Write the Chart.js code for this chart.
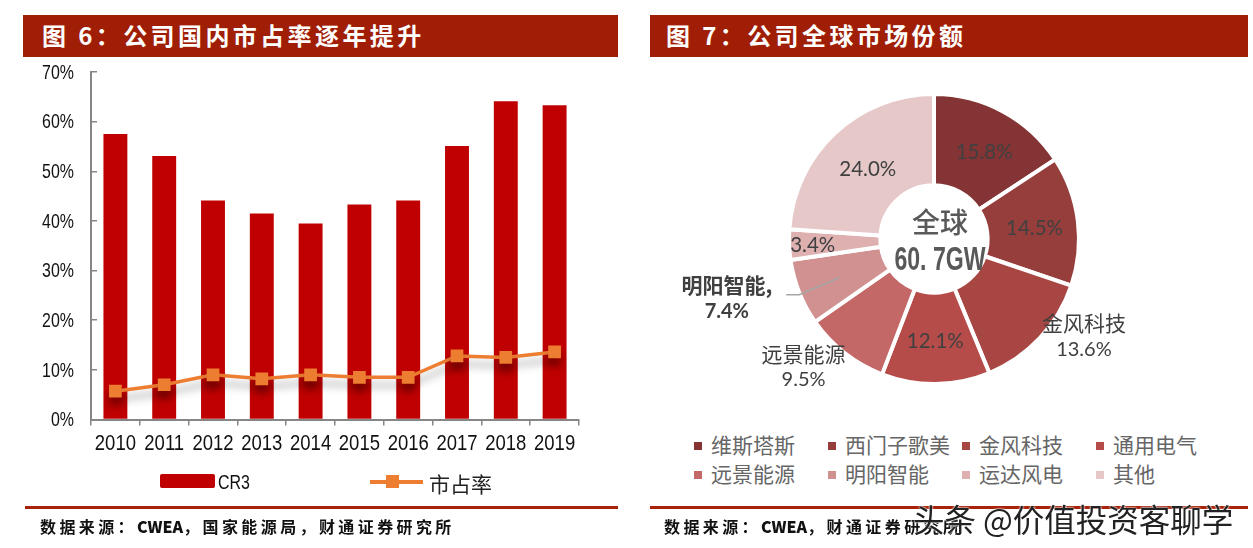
<!DOCTYPE html>
<html>
<head>
<meta charset="utf-8">
<script src="https://cdn.jsdelivr.net/npm/chart.js@4"></script>
<style>
html,body{margin:0;padding:0;background:#fff;}
body{width:1253px;height:548px;position:relative;overflow:hidden;font-family:"Noto Sans CJK SC",sans-serif;}
.abs{position:absolute;white-space:nowrap;}
canvas{position:absolute;}
.head{position:absolute;top:15px;height:42px;background:#A01E05;color:#fff;font-weight:700;font-size:24px;line-height:40px;letter-spacing:3.4px;}
.rule{position:absolute;top:506px;height:2.5px;background:#A92108;}
.src{position:absolute;top:514px;font-size:16px;line-height:24px;font-weight:700;color:#111;letter-spacing:3.4px;}
.src b{letter-spacing:0;}
</style>
</head>
<body>
<div class="head" style="left:23px;width:595px;"><span style="margin-left:19px">图 6：公司国内市占率逐年提升</span></div>
<div class="head" style="left:650px;width:598px;"><span style="margin-left:16px">图 7：公司全球市场份额</span></div>

<canvas id="barChart" style="left:0;top:60px;width:630px;height:440px;"></canvas>
<canvas id="pieChart" style="left:644px;top:60px;width:580px;height:358px;"></canvas>
<div id="barLegend"></div>
<div id="pieLegend"></div>

<div class="rule" style="left:25px;width:593px;"></div>
<div class="rule" style="left:650px;width:598px;"></div>
<div class="src" style="left:40px;">数据来源：<b>CWEA</b>，国家能源局，财通证券研究所</div>
<div class="src" style="left:664px;">数据来源：<b>CWEA</b>，财通证券研究所</div>
<div class="abs" style="left:913px;top:497px;font-size:31.5px;line-height:42px;color:#222;text-shadow:0 0 2px #fff,0 0 2px #fff;">头条 @价值投资客聊学</div>

<script>
// ------ data ------
const years = ["2010","2011","2012","2013","2014","2015","2016","2017","2018","2019"];
const cr3 = [57.5,53.1,44.1,41.5,39.5,43.3,44.1,55.1,64.1,63.3];
const share = [5.7,7,9,8.2,9,8.5,8.5,12.8,12.5,13.6];
const yTicks = [0,10,20,30,40,50,60,70];

const companies = ["维斯塔斯","西门子歌美","金风科技","通用电气","远景能源","明阳智能","运达风电","其他"];
const globalShare = [15.8,14.5,13.6,12.1,9.5,7.4,3.4,24.0];
const sliceColors = ["#843434","#963E3C","#A84644","#B64C4A","#C46867","#D29191","#DEB0B0","#E6C8C8"];

const BAR_RED = "#C00000";
const LINE_ORANGE = "#ED7D31";
const AXIS_GREY = "#868686";
const SANS = '"Liberation Sans",sans-serif';
const CJK = '"Noto Sans CJK SC",sans-serif';

// text squeezed sideways, the reference uses a condensed face we do not have
function narrowText(c,text,x,y,squeeze){
    c.save();
    c.translate(x,y);
    c.scale(squeeze,1);
    c.fillText(text,0,0);
    c.restore();
}

// ------ bar + line ------

// soft drop shadow under the line series only
const lineShadow = {
    id:"lineShadow",
    beforeDatasetDraw(chart,args){
        if(args.index !== 1) return;
        const c = chart.ctx;
        c.save();
        c.shadowColor = "rgba(0,0,0,0.35)";
        c.shadowBlur = 9;
        c.shadowOffsetY = 8;
    },
    afterDatasetDraw(chart,args){
        if(args.index !== 1) return;
        chart.ctx.restore();
    }
};

const narrowTicks = {
    id:"narrowTicks",
    afterDraw(chart){
        const c = chart.ctx;
        const {x,y} = chart.scales;
        c.save();
        c.fillStyle = "#111";
        c.textBaseline = "middle";
        c.font = "21.5px "+SANS;
        c.textAlign = "center";
        years.forEach((yr,i)=>{
            narrowText(c,yr,x.getPixelForTick(i),y.bottom+25,0.86);
        });
        c.font = "21px "+SANS;
        c.textAlign = "right";
        yTicks.forEach(v=>{
            narrowText(c,v+"%",x.left-17,y.getPixelForValue(v)+1,0.76);
        });
        c.restore();
    }
};

new Chart(document.getElementById("barChart"),{
    type:"bar",
    plugins:[lineShadow,narrowTicks],
    data:{
        labels:years,
        datasets:[
            {
                label:"CR3",
                data:cr3,
                backgroundColor:BAR_RED,
                barPercentage:0.49,
                categoryPercentage:1,
                order:2
            },
            {
                type:"line",
                label:"市占率",
                data:share,
                borderColor:LINE_ORANGE,
                backgroundColor:LINE_ORANGE,
                borderWidth:3.5,
                pointStyle:"rect",
                pointRadius:9,
                pointBorderWidth:0,
                tension:0,
                order:1
            }
        ]
    },
    options:{
        responsive:false,
        animation:false,
        devicePixelRatio:1,
        layout:{padding:{top:12,right:51,left:0,bottom:0}},
        plugins:{legend:{display:false},tooltip:{enabled:false}},
        scales:{
            x:{
                afterFit:s=>{s.height = 80.5;},
                grid:{drawOnChartArea:false,color:AXIS_GREY,tickLength:6,lineWidth:1.5},
                border:{color:AXIS_GREY,width:2},
                ticks:{display:false}
            },
            y:{
                min:0,
                max:70,
                afterFit:s=>{s.width = 91;},
                afterBuildTicks:s=>{s.ticks = yTicks.map(v=>({value:v}));},
                grid:{drawOnChartArea:false,color:AXIS_GREY,tickLength:-6,lineWidth:1.5},
                border:{color:AXIS_GREY,width:2},
                ticks:{display:false}
            }
        }
    }
});

// ------ donut ------

// x,y shift of each label from its slice centre, name shown on the outside ones
const labelPlace = [
    {dx:2,dy:3},
    {dx:0,dy:2},
    {dx:76,dy:28,name:true},
    {dx:0,dy:1},
    {dx:-68,dy:48,name:true},
    {dx:-113,dy:22,name:true,bold:true},
    {dx:-20,dy:2},
    {dx:3,dy:4}
];

const donutLabels = {
    id:"donutLabels",
    afterDatasetsDraw(chart){
        const c = chart.ctx;
        const arcs = chart.getDatasetMeta(0).data;
        const px = arcs[0].x, py = arcs[0].y;
        c.save();
        c.textAlign = "center";
        c.textBaseline = "middle";
        arcs.forEach((arc,i)=>{
            const mid = (arc.startAngle+arc.endAngle)/2;
            const r = (arc.innerRadius+arc.outerRadius)/2 + 2;
            const p = labelPlace[i];
            const x = px + Math.cos(mid)*r + p.dx;
            const y = py + Math.sin(mid)*r + p.dy;
            const txt = globalShare[i].toFixed(1)+"%";
            c.fillStyle = "#404040";
            if(p.name){
                c.font = (p.bold?"700 ":"")+"21px "+CJK;
                c.fillText(companies[i]+(p.bold?",":""),x,y-13);
                c.font = (p.bold?"700 ":"")+"20px Lato";
                c.fillText(txt,x,y+13);
            }else{
                c.font = "20.5px Lato";
                c.fillText(txt,x,y);
            }
        });
        c.restore();
    }
};

const centerText = {
    id:"centerText",
    afterDatasetsDraw(chart){
        const c = chart.ctx;
        const a = chart.getDatasetMeta(0).data[0];
        c.save();
        c.textAlign = "center";
        c.textBaseline = "middle";
        c.fillStyle = "#595959";
        c.font = "500 28px "+CJK;
        c.fillText("全球",a.x+6,a.y-17);
        c.font = "700 33px "+SANS;
        narrowText(c,"60. 7GW",a.x+6,a.y+22,0.7);
        c.restore();
    }
};

// leader line from the 明阳智能 label into its slice
const leader = {
    id:"leader",
    afterDatasetsDraw(chart){
        const c = chart.ctx;
        const a = chart.getDatasetMeta(0).data[5];
        const mid = (a.startAngle+a.endAngle)/2;
        const r = a.outerRadius*0.8;
        const x = a.x+Math.cos(mid)*r, y = a.y+Math.sin(mid)*r;
        c.save();
        c.strokeStyle = "#A6A6A6";
        c.lineWidth = 1.5;
        c.beginPath();
        c.moveTo(x-40,y+13);
        c.lineTo(x-27,y+13);
        c.lineTo(x+13,y-4);
        c.stroke();
        c.restore();
    }
};

new Chart(document.getElementById("pieChart"),{
    type:"doughnut",
    plugins:[leader,donutLabels,centerText],
    data:{
        labels:companies,
        datasets:[{
            data:globalShare,
            backgroundColor:sliceColors,
            borderColor:"#fff",
            borderWidth:4,
            borderAlign:"center"
        }]
    },
    options:{
        responsive:false,
        animation:false,
        devicePixelRatio:1,
        cutout:"37%",
        layout:{padding:{top:32,bottom:32}},
        plugins:{legend:{display:false},tooltip:{enabled:false}}
    }
});

// ------ html legends ------

const barLegend = document.getElementById("barLegend");
barLegend.innerHTML =
    '<div class="abs" style="left:160px;top:474px;width:55px;height:14px;background:'+BAR_RED+';border-radius:2px"></div>'+
    '<div class="abs" style="left:218px;top:469px;font:21px/26px \'Liberation Sans\',sans-serif;color:#111;transform:scaleX(0.76);transform-origin:left">CR3</div>'+
    '<div class="abs" style="left:370px;top:480px;width:53px;height:3.5px;background:'+LINE_ORANGE+'"></div>'+
    '<div class="abs" style="left:386px;top:475px;width:13px;height:13px;background:'+LINE_ORANGE+'"></div>'+
    '<div class="abs" style="left:429px;top:468px;font-size:21px;line-height:30px;color:#222">市占率</div>';

const pieLegend = document.getElementById("pieLegend");
const colX = [694,828,962,1096];
const rowY = [446,475];
companies.forEach((name,i)=>{
    const x = colX[i%4], y = rowY[Math.floor(i/4)];
    const sq = document.createElement("div");
    sq.className = "abs";
    sq.style.cssText = "left:"+x+"px;top:"+(y-4)+"px;width:8px;height:8px;background:"+sliceColors[i];
    pieLegend.appendChild(sq);
    const t = document.createElement("div");
    t.className = "abs";
    t.textContent = name;
    t.style.cssText = "left:"+(x+17)+"px;top:"+(y-17)+"px;font-size:21px;line-height:30px;color:#666";
    pieLegend.appendChild(t);
});
</script>
</body>
</html>
